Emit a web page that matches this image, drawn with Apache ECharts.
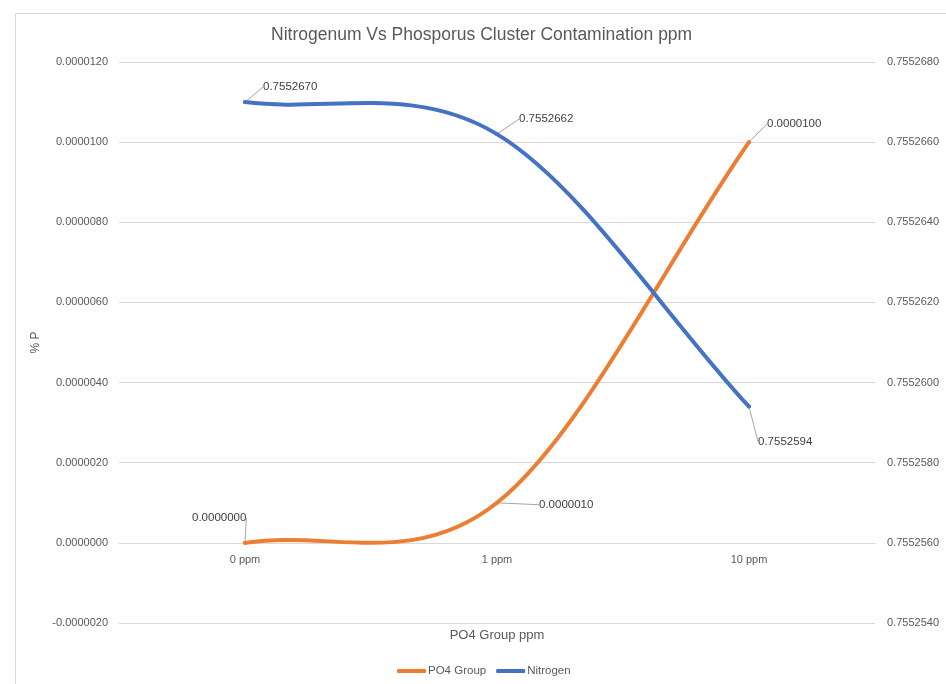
<!DOCTYPE html>
<html>
<head>
<meta charset="utf-8">
<script src="https://cdn.jsdelivr.net/npm/echarts@6/dist/echarts.min.js"></script>
<style>html,body{margin:0;padding:0;background:#fff;}#c{width:946px;height:684px;}</style>
</head>
<body>
<div id="c"></div>
<script>
const categories = ['0 ppm', '1 ppm', '10 ppm'];
const po4Values = [0.0000000, 0.0000010, 0.0000100];
const nitrogenValues = [0.7552670, 0.7552662, 0.7552594];
const leftTicks = { min: -0.000002, max: 0.000012, interval: 0.000002 };
const rightTicks = { min: 0.755254, max: 0.755268, interval: 0.000002 };

const po4LabelShift = [[-60, -25], [35, 2], [11, -18]];
const nitLabelShift = [[11, -15], [15, -15], [2, 35]];

const FONT = '"Liberation Sans", Arial, sans-serif';
const TXT = '#595959';
const GRID = '#D9D9D9';
const ORANGE = '#ED7D31';
const BLUE = '#4472C4';

const chart = echarts.init(document.getElementById('c'), null, { renderer: 'canvas' });
const fmt = v => Number(v).toFixed(7);

// Excel-style smoothed curve (Catmull-Rom Bezier) through the library's own coordinates
function smoothRenderer(values, color) {
  return function (params, api) {
    if (params.dataIndex !== 0) return null;
    const P = values.map((v, i) => api.coord([i, v]));
    const n = P.length;
    const ext = i => {
      if (i < 0) return [2 * P[0][0] - P[1][0], 2 * P[0][1] - P[1][1]];
      if (i >= n) return [2 * P[n - 1][0] - P[n - 2][0], 2 * P[n - 1][1] - P[n - 2][1]];
      return P[i];
    };
    let d = 'M' + P[0][0] + ' ' + P[0][1];
    for (let i = 0; i < n - 1; i++) {
      const a = ext(i - 1), b = P[i], c = P[i + 1], e = ext(i + 2);
      const c1 = [b[0] + (c[0] - a[0]) / 6, b[1] + (c[1] - a[1]) / 6];
      const c2 = [c[0] - (e[0] - b[0]) / 6, c[1] - (e[1] - b[1]) / 6];
      d += ' C' + c1[0] + ' ' + c1[1] + ' ' + c2[0] + ' ' + c2[1] + ' ' + c[0] + ' ' + c[1];
    }
    return {
      type: 'path',
      shape: { pathData: d },
      style: { fill: 'none', stroke: color, lineWidth: 4, lineCap: 'round', lineJoin: 'round' },
      silent: true
    };
  };
}

chart.setOption({
  backgroundColor: '#ffffff',
  animation: false,
  textStyle: { fontFamily: FONT },
  graphic: [{
    type: 'rect', left: 13, top: 11,
    shape: { width: 1000, height: 1000 },
    style: { fill: 'none', stroke: GRID, lineWidth: 1 }, silent: true
  }],
  title: {
    text: 'Nitrogenum Vs Phosporus Cluster Contamination ppm',
    left: 266, top: 21,
    textStyle: { fontFamily: FONT, fontSize: 17.5, fontWeight: 'normal', color: TXT }
  },
  legend: {
    bottom: 2, left: 392,
    icon: 'roundRect', itemWidth: 29, itemHeight: 4, itemGap: 10,
    textStyle: { fontFamily: FONT, fontSize: 11.5, color: TXT, padding: [0, 0, 0, -3] },
    data: ['PO4 Group', 'Nitrogen']
  },
  grid: { left: 119, right: 71, top: 62, bottom: 61, containLabel: false, outerBoundsMode: 'none' },
  xAxis: {
    type: 'category', data: categories, boundaryGap: true,
    position: 'bottom', offset: -80,
    axisLine: { show: true, onZero: false, lineStyle: { color: GRID } },
    axisTick: { show: false },
    axisLabel: { color: TXT, fontSize: 11, margin: 11, fontFamily: FONT },
    name: 'PO4 Group ppm', nameLocation: 'middle', nameGap: 86,
    nameTextStyle: { color: TXT, fontSize: 13, fontFamily: FONT }
  },
  yAxis: [{
    type: 'value', position: 'left',
    min: leftTicks.min, max: leftTicks.max, interval: leftTicks.interval,
    axisLine: { show: false }, axisTick: { show: false },
    axisLabel: { color: TXT, fontSize: 11, margin: 11, formatter: fmt, fontFamily: FONT },
    splitLine: { show: true, lineStyle: { color: GRID, width: 1 } },
    name: '% P', nameLocation: 'middle', nameRotate: 90, nameGap: 70,
    nameTextStyle: { color: TXT, fontSize: 12, fontFamily: FONT }
  }, {
    type: 'value', position: 'right',
    min: rightTicks.min, max: rightTicks.max, interval: rightTicks.interval,
    axisLine: { show: false }, axisTick: { show: false },
    axisLabel: { color: TXT, fontSize: 11, margin: 12, formatter: fmt, fontFamily: FONT },
    splitLine: { show: false }
  }],
  series: [{
    name: 'PO4 Group', type: 'line', yAxisIndex: 0,
    data: po4Values,
    symbol: 'circle', symbolSize: 4, showSymbol: true,
    itemStyle: { color: ORANGE },
    lineStyle: { color: ORANGE, width: 0, opacity: 0 },
    label: { show: true, position: 'right', formatter: p => fmt(p.value), color: '#404040', fontSize: 11.5, fontFamily: FONT },
    labelLine: { show: true, lineStyle: { color: '#A6A6A6', width: 1 } },
    labelLayout: p => ({ dx: po4LabelShift[p.dataIndex][0], dy: po4LabelShift[p.dataIndex][1] }),
    z: 5
  }, {
    name: 'Nitrogen', type: 'line', yAxisIndex: 1,
    data: nitrogenValues,
    symbol: 'circle', symbolSize: 4, showSymbol: true,
    itemStyle: { color: BLUE },
    lineStyle: { color: BLUE, width: 0, opacity: 0 },
    label: { show: true, position: 'right', formatter: p => fmt(p.value), color: '#404040', fontSize: 11.5, fontFamily: FONT },
    labelLine: { show: true, lineStyle: { color: '#A6A6A6', width: 1 } },
    labelLayout: p => ({ dx: nitLabelShift[p.dataIndex][0], dy: nitLabelShift[p.dataIndex][1] }),
    z: 6
  }, {
    name: 'PO4 Group', type: 'custom', yAxisIndex: 0,
    data: po4Values.map((v, i) => [i, v]),
    encode: { x: 0, y: 1 },
    itemStyle: { color: ORANGE },
    renderItem: smoothRenderer(po4Values, ORANGE),
    z: 3
  }, {
    name: 'Nitrogen', type: 'custom', yAxisIndex: 1,
    data: nitrogenValues.map((v, i) => [i, v]),
    encode: { x: 0, y: 1 },
    itemStyle: { color: BLUE },
    renderItem: smoothRenderer(nitrogenValues, BLUE),
    z: 4
  }]
});
</script>
</body>
</html>
